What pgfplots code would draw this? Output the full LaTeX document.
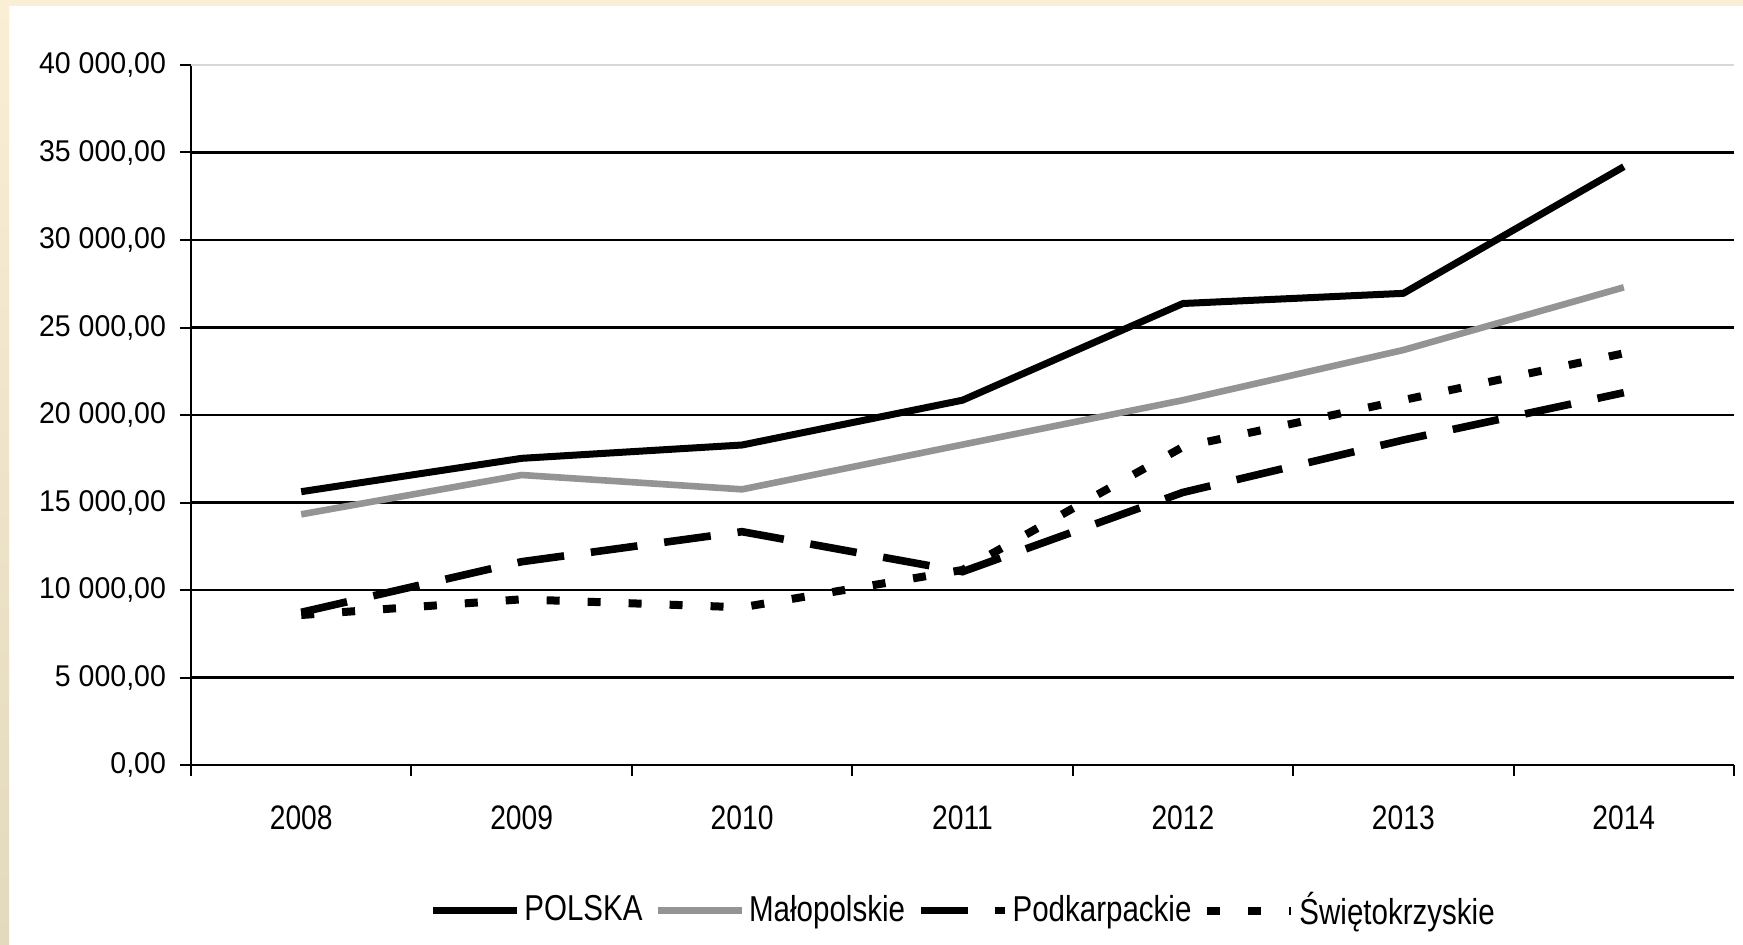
\documentclass[border=0pt]{standalone}
\usepackage{pgfplots}
\pgfplotsset{compat=1.18}
\usepackage{fontspec}
\setmainfont{Liberation Sans}
\newfontfamily\ytfont{Liberation Sans}[FakeStretch=0.95]
\newfontfamily\xtfont{Liberation Sans}[FakeStretch=0.83]
\newfontfamily\legfont{Liberation Sans}[FakeStretch=0.82]
\definecolor{beigeA}{RGB}{250,238,213}
\definecolor{beigeB}{RGB}{227,217,188}
\definecolor{topgrid}{RGB}{215,215,215}
\begin{document}
\fontsize{14.5}{17}\selectfont
\begin{tikzpicture}
\path[use as bounding box] (0,0) rectangle (871.5pt,472pt);
\fill[white] (0,0) rectangle (871.5pt,472pt);
\fill[beigeA] (0,469pt) rectangle (871.5pt,472pt);
\shade[top color=beigeA,bottom color=beigeB] (0,0) rectangle (4.5pt,472pt);
\begin{axis}[
  at={(95.5pt,89.5pt)}, anchor=south west,
  scale only axis, width=771.5pt, height=350pt,
  xmin=-0.5, xmax=6.5, ymin=0, ymax=40000,
  clip=false,
  axis x line*=bottom, axis y line*=left,
  axis line style={line width=1pt, black, -},
  xtick={-0.5,0.5,...,6.5},
  x tick label as interval,
  xticklabels={2008,2009,2010,2011,2012,2013,2014},
  ytick={0,5000,...,40000},
  scaled y ticks=false,
  yticklabels={{0,00},{5 000,00},{10 000,00},{15 000,00},{20 000,00},{25 000,00},{30 000,00},{35 000,00},{40 000,00}},
  ymajorgrids,
  grid style={black, line width=1.1pt},
  tick align=outside,
  major tick length=5.5pt,
  tick style={black, line width=1pt},
  yticklabel style={font=\ytfont\fontsize{15}{17}\selectfont, xshift=-2pt},
  xticklabel style={font=\xtfont\fontsize{17}{19}\selectfont, yshift=-10pt},
  legend style={draw=none, fill=none, at={(0.501,-0.2080)}, anchor=center,
    font=\legfont\fontsize{18}{20}\selectfont, legend columns=-1,
    /tikz/every even column/.append style={column sep=4pt},
    inner sep=0pt},
  legend image code/.code={\draw[#1] (0pt,0pt) -- (42pt,0pt);},
]
\draw[topgrid, line width=1.1pt] (axis cs:-0.5,40000) -- (axis cs:6.5,40000);
\addplot[black, line width=3.5pt, line join=round] coordinates {
  (0,15619) (1,17524) (2,18286) (3,20846) (4,26371) (5,26952) (6,34190)};
\addlegendentry{POLSKA}
\addplot[black!42, line width=3.3pt, line join=round] coordinates {
  (0,14324) (1,16571) (2,15752) (3,18308) (4,20846) (5,23714) (6,27295)};
\addlegendentry{Małopolskie}
\addplot[black, line width=3.8pt, dash pattern=on 23.5pt off 13.5pt] coordinates {
  (0,8724) (1,11617) (2,13333) (3,11047) (4,15577) (5,18571) (6,21276)};
\addlegendentry{Podkarpackie}
\addplot[black, line width=4pt, dash pattern=on 6.5pt off 14pt] coordinates {
  (0,8571) (1,9467) (2,9010) (3,11143) (4,18177) (5,20857) (6,23524)};
\addlegendentry{Świętokrzyskie}
\end{axis}
\end{tikzpicture}
\end{document}
